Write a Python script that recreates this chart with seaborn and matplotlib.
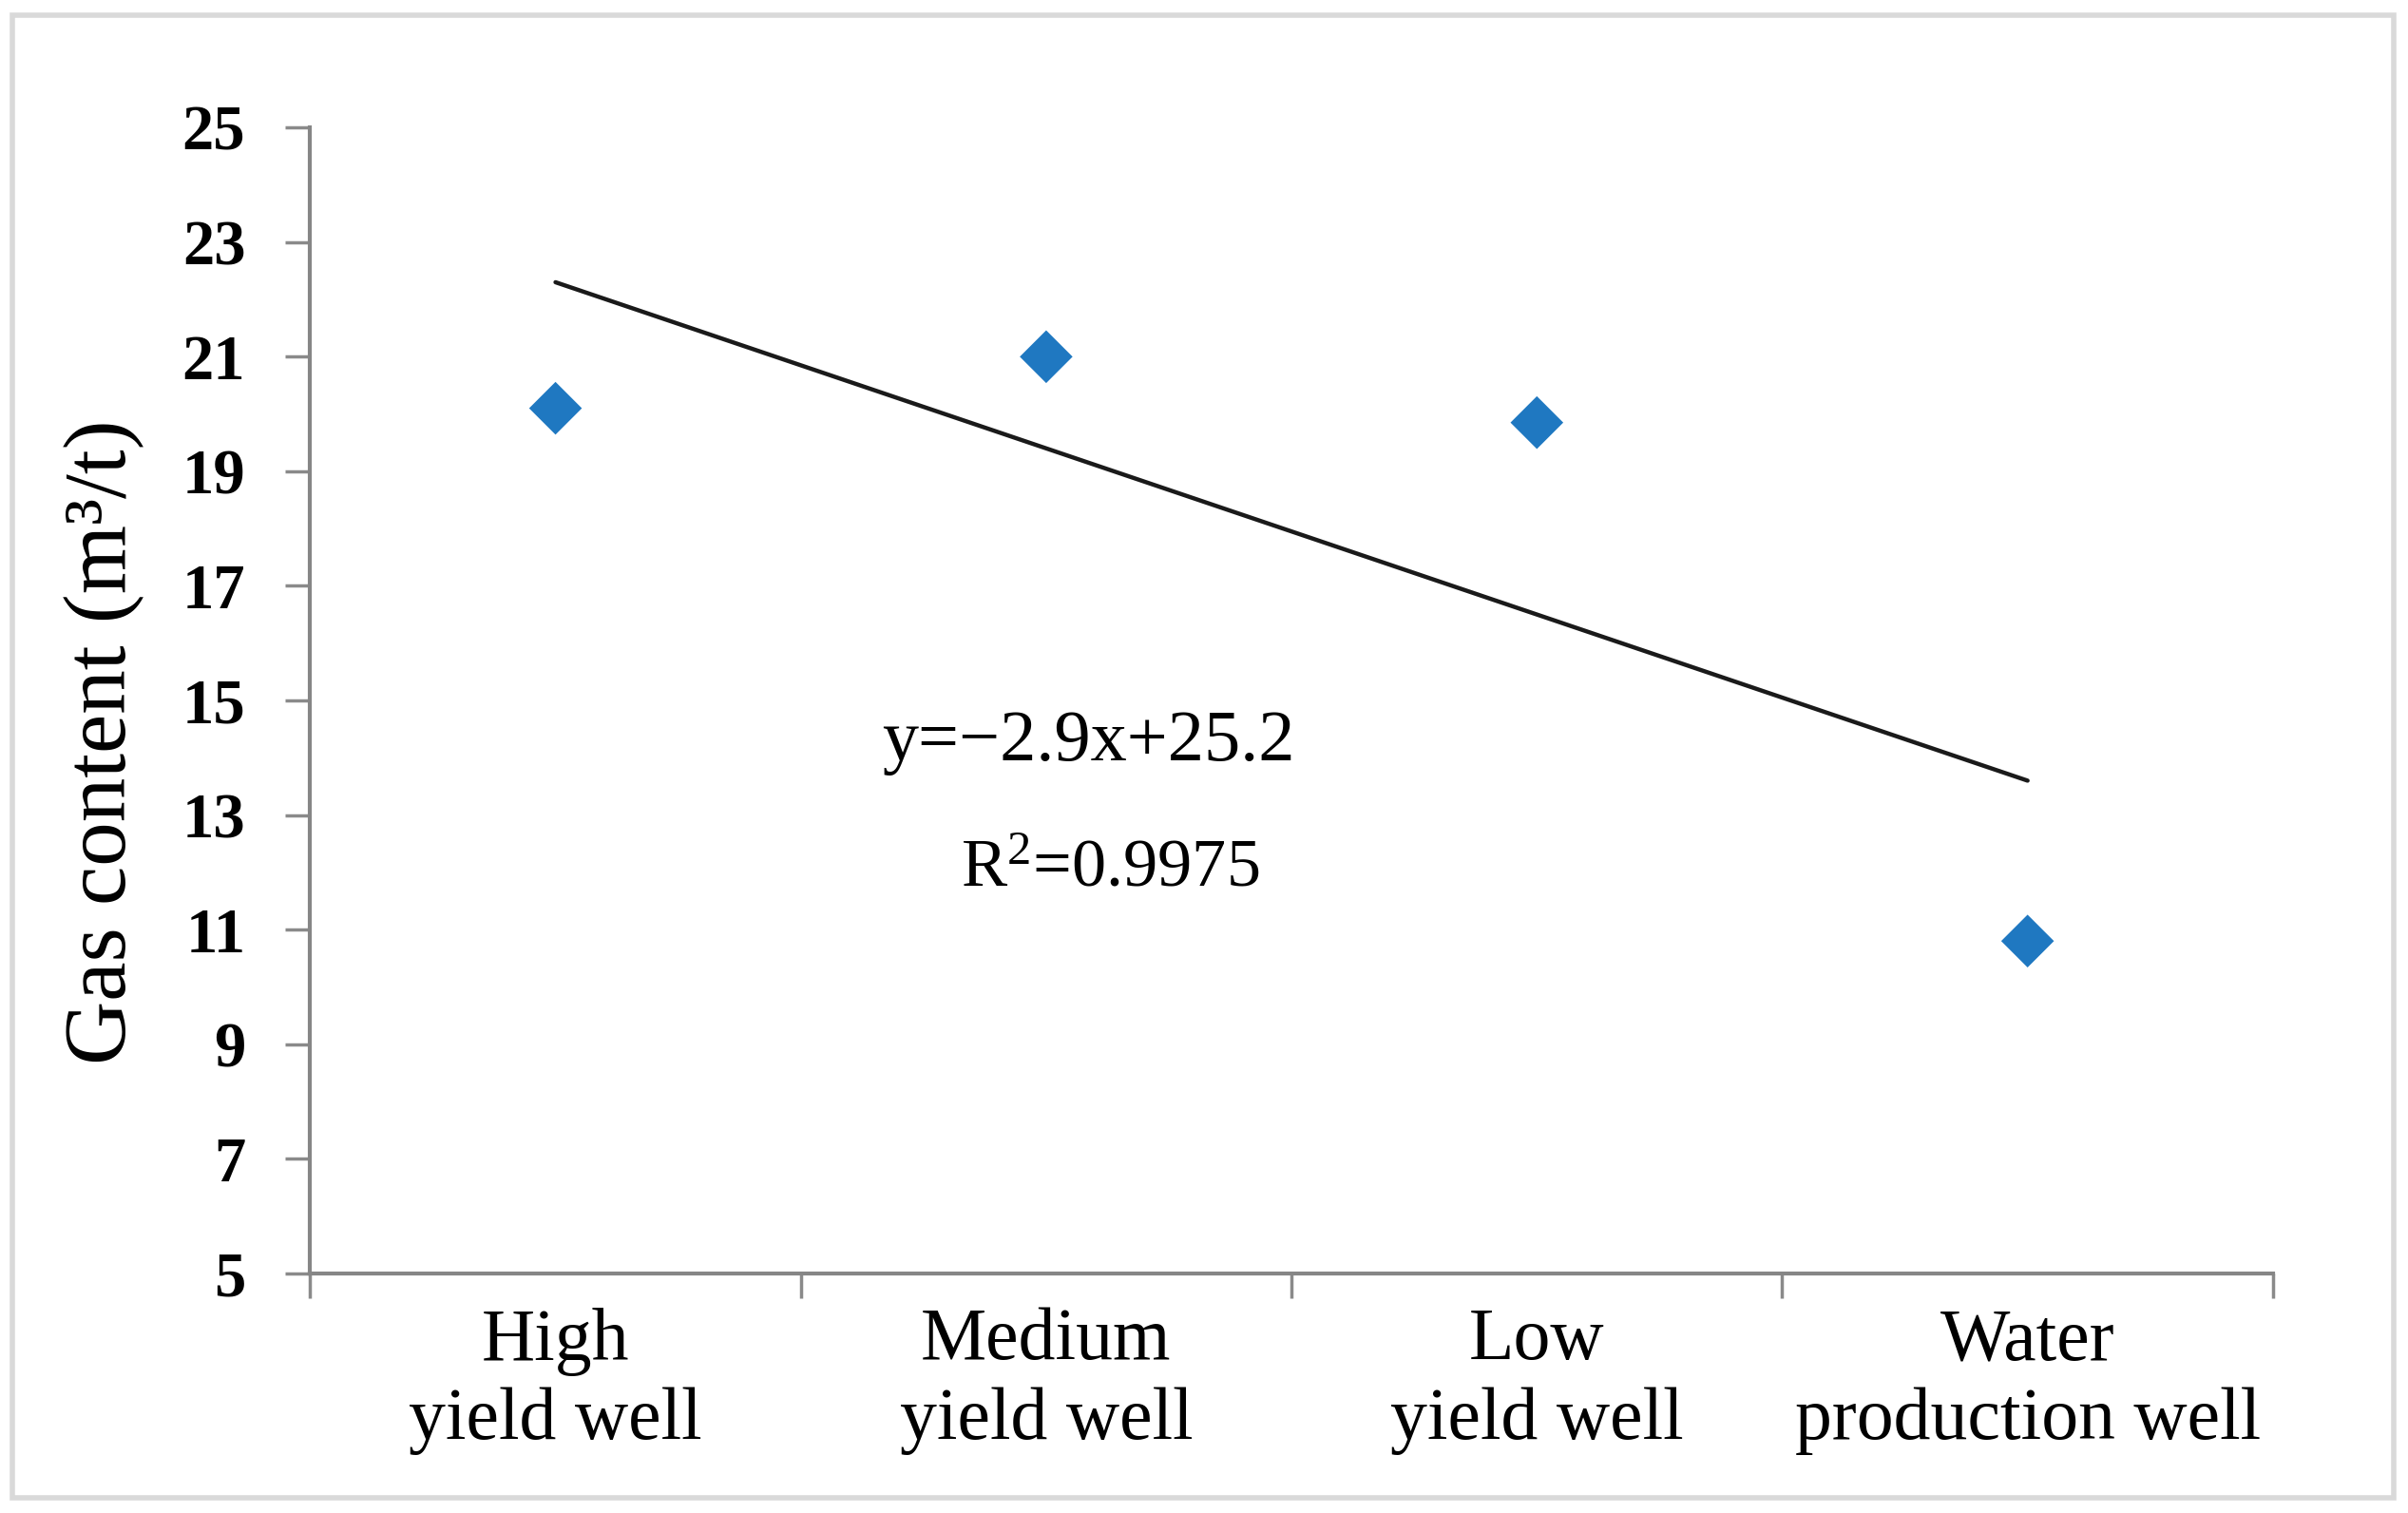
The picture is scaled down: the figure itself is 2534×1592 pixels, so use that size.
import numpy as np
import pandas as pd
import matplotlib.pyplot as plt
import seaborn as sns
from matplotlib.patches import Rectangle

# chart data
categories = ["High\nyield well", "Medium\nyield well", "Low\nyield well", "Water\nproduction well"]
positions = [1, 2, 3, 4]
gas_content = [20.1, 21.0, 19.85, 10.8]
y_ticks = list(range(5, 26, 2))
slope = -2.9
intercept = 25.2
r_squared = 0.9975

sns.set_style("white")
plt.rcParams["font.family"] = ["Liberation Serif", "DejaVu Serif"]
plt.rcParams["mathtext.fontset"] = "custom"
plt.rcParams["mathtext.rm"] = "Liberation Serif"
plt.rcParams["mathtext.it"] = "Liberation Serif"
plt.rcParams["text.color"] = "black"
plt.rcParams["axes.labelcolor"] = "black"
plt.rcParams["xtick.color"] = "black"
plt.rcParams["ytick.color"] = "black"

df = pd.DataFrame({"pos": positions, "gas": gas_content})
trend = pd.DataFrame({"pos": positions, "fit": [slope * p + intercept for p in positions]})

fig = plt.figure(figsize=(25.34, 15.92), dpi=100)
ax = fig.add_axes([0.1288, 0.1584, 0.8151, 0.7573])

sns.lineplot(data=trend, x="pos", y="fit", color="#1a1a1a", linewidth=3.2, ax=ax)
sns.scatterplot(data=df, x="pos", y="gas", marker="D", s=800, color="#1f78c1",
                edgecolor="none", ax=ax, zorder=3)

ax.set_xlim(0.5, 4.5)
ax.set_ylim(5, 25)
ax.set_yticks(y_ticks)
ax.set_yticklabels([str(t) for t in y_ticks], fontsize=48, fontweight="bold")
ax.set_xticks(positions)
ax.set_xticklabels(categories, fontsize=56, linespacing=1.22)
ax.set_xticks([0.5, 1.5, 2.5, 3.5, 4.5], minor=True)
ax.tick_params(axis="x", which="major", bottom=True, length=0, pad=26)
ax.tick_params(axis="x", which="minor", bottom=True, length=19, width=2.5,
               color="#8a8a8a", direction="out")
ax.tick_params(axis="y", left=True, length=19, width=2.5, color="#8a8a8a",
               labelcolor="black", direction="out", pad=30)

for side in ["top", "right"]:
    ax.spines[side].set_visible(False)
for side in ["left", "bottom"]:
    ax.spines[side].set_color("#868686")
    ax.spines[side].set_linewidth(3)

ax.set_xlabel("")
ax.set_ylabel("Gas content (m³/t)", fontsize=67)
ax.yaxis.label.set_va("center")
ax.yaxis.set_label_coords(-0.105, 0.464)

ax.text(2.087, 13.95, "y=\u22122.9x+25.2", fontsize=55, ha="center", va="baseline")
ax.text(2.13, 11.76, "R$^2$=" + str(r_squared), fontsize=52, ha="center", va="baseline")

fig.patches.append(Rectangle((0.005, 0.01), 0.989, 0.98, transform=fig.transFigure,
                             fill=False, edgecolor="#d9d9d9", linewidth=4))

fig.savefig("out.png", dpi=100)
